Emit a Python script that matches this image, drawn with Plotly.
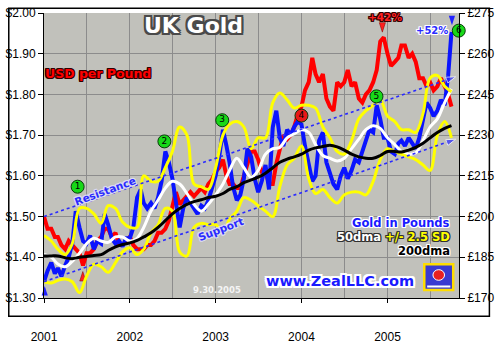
import plotly.graph_objects as go

# ---------------- data ----------------
semi_dates = []
for yr in range(2001, 2006):
    for mo in range(1, 13):
        if yr == 2005 and mo > 9:
            break
        semi_dates.append(f"{yr}-{mo:02d}-01")
        semi_dates.append(f"{yr}-{mo:02d}-16")
semi_dates.append("2005-09-30")

month_dates = []
for yr in range(2001, 2006):
    for mo in range(1, 13):
        if yr == 2005 and mo > 9:
            break
        month_dates.append(f"{yr}-{mo:02d}-01")
month_dates.append("2005-09-30")

usd_per_pound = [
    1.50, 1.47, 1.47, 1.45, 1.45, 1.43, 1.42, 1.44, 1.43, 1.42, 1.41, 1.38,
    1.41, 1.41, 1.42, 1.44, 1.45, 1.47, 1.47, 1.45, 1.46, 1.43, 1.43, 1.44,
    1.45, 1.43, 1.42, 1.42, 1.42, 1.43, 1.43, 1.44, 1.46, 1.46, 1.47, 1.49,
    1.53, 1.56, 1.53, 1.54, 1.55, 1.56, 1.55, 1.56, 1.57, 1.56, 1.58, 1.59,
    1.61, 1.62, 1.64, 1.60, 1.58, 1.58, 1.57, 1.57, 1.60, 1.63, 1.66, 1.66,
    1.64, 1.61, 1.61, 1.58, 1.58, 1.63, 1.67, 1.70, 1.69, 1.70, 1.72, 1.75,
    1.77, 1.81, 1.83, 1.89, 1.85, 1.83, 1.85, 1.79, 1.77, 1.76, 1.83, 1.82,
    1.83, 1.86, 1.82, 1.83, 1.79, 1.78, 1.80, 1.81, 1.83, 1.86, 1.93, 1.94,
    1.90, 1.87, 1.88, 1.89, 1.92, 1.92, 1.89, 1.90, 1.88, 1.84, 1.84, 1.82,
    1.83, 1.81, 1.82, 1.84, 1.82, 1.80, 1.77,
]

gold_gbp = [
    176, 180, 183, 179, 181, 178, 182, 185, 190, 202, 196, 191,
    190, 193, 188, 191, 190, 201, 197, 192, 190, 191, 189, 192,
    192, 196, 207, 210, 205, 203, 205, 203, 207, 213, 224, 220,
    214, 205, 196, 203, 207, 205, 203, 201, 204, 203, 206, 211,
    215, 222, 232, 226, 220, 211, 206, 208, 214, 225, 222, 214,
    209, 213, 219, 210, 233, 239, 229, 226, 232, 230, 233, 235,
    234, 226, 220, 213, 215, 228, 231, 220, 216, 212, 210, 215,
    218, 214, 217, 221, 220, 224, 228, 232, 231, 241, 236, 229,
    229, 224, 223, 227, 228, 226, 229, 227, 225, 229, 236, 242,
    240, 237, 239, 243, 241, 252, 268,
]

dma50 = [
    186, 185, 182.5, 181.5, 183.5, 186.5, 190, 192, 191, 190.5, 192.5, 192.5,
    191, 192, 196, 202, 206, 210.5, 213, 212, 208.5, 204.5, 202, 204.5,
    208, 212, 217, 221.5, 218, 214.5, 217, 223, 225, 225.5, 229, 230.5,
    232, 231, 226.5, 222.5, 221.5, 220.5, 221.5, 225, 228.5, 232, 233.5, 232.5,
    229, 226.5, 224, 223, 223.5, 228, 233, 236, 242, 247,
]

dma200 = [
    185.5, 185.5, 185.5, 184.8, 184.5, 185, 185.3, 185.7, 186, 187.5, 188.8, 189.7,
    190.3, 191.2, 192.5, 194, 196, 198.5, 201, 203, 204.5, 205.5, 206.2, 207,
    207.5, 208.5, 210, 211, 212.5, 213.5, 214.5, 216, 218, 220, 221.2, 222,
    223, 224.5, 225.3, 225.8, 226.3, 225.7, 224.5, 223, 222, 221.5, 221.5, 222.5,
    224, 224, 223.8, 224.5, 225.5, 227, 229, 231, 232.5, 233.5,
]

band_upper = [
    193, 191, 188, 186, 190, 203, 203, 201, 197.5, 204, 203, 198,
    196, 196, 215, 213, 213, 218, 224, 233, 230, 212, 211, 210,
    218, 230, 234, 235, 233, 225, 229, 229, 242, 245.5, 243, 240,
    241, 241, 240, 233, 229, 224, 223, 228, 236, 239, 241, 243,
    237, 235, 232, 232, 231, 238, 251, 252, 248, 246,
]

band_lower = [
    176, 175.5, 176.5, 177, 176, 172, 178, 182.5, 181.5, 179.5, 183, 187,
    188.5, 186, 188, 194, 197, 203, 202, 187, 185.5, 196, 197.5, 197,
    197, 194, 199, 202, 207, 206, 204, 202, 200, 211, 219, 221.5,
    226, 214, 208.5, 210, 207, 205, 208, 209, 209, 208, 213, 221,
    225, 224, 223, 222, 221, 219, 217, 230, 235, 229,
]

trend_dates = ["2001-01-01", "2005-10-18"]
resistance = [200, 251.5]
support = [176, 228.5]

marker_dates = ["2001-05-24", "2002-05-28", "2003-01-29", "2004-01-01", "2004-11-15", "2005-10-31"]
marker_vals = [211, 227.7, 235.5, 237.2, 244.3, 268.5]
marker_labels = ["1", "2", "3", "4", "5", "6"]
marker_colors = ["#18d818", "#18d818", "#18d818", "#e81818", "#18d818", "#18d818"]

usd_ticks = [1.30, 1.40, 1.50, 1.60, 1.70, 1.80, 1.90, 2.00]
gbp_ticks = [170, 185, 200, 215, 230, 245, 260, 275]
x_ticks = ["2001-01-01", "2002-01-01", "2003-01-01", "2004-01-01", "2005-01-01"]
x_labels = ["2001", "2002", "2003", "2004", "2005"]

# ---------------- helpers ----------------
def outline(c, w=1):
    offs = [(-w, -w), (w, -w), (-w, w), (w, w), (0, w), (0, -w), (w, 0), (-w, 0)]
    return ", ".join(f"{dx}px {dy}px 0 {c}" for dx, dy in offs)

L, R, T, B = 37, 33, 6, 22
PW, PH = 500 - L - R, 350 - T - B

def px(xp):
    return (xp - L) / PW

def py(yp):
    return (350 - B - yp) / PH

BLUE = "#1a1aff"
FONT = "DejaVu Sans"

fig = go.Figure()

fig.add_trace(go.Scatter(x=semi_dates, y=usd_per_pound, mode="lines",
                         line=dict(color="#ff0000", width=4), yaxis="y"))
fig.add_trace(go.Scatter(x=semi_dates, y=gold_gbp, mode="lines",
                         line=dict(color="#0a14ff", width=4), yaxis="y2"))
fig.add_trace(go.Scatter(x=month_dates, y=dma50, mode="lines",
                         line=dict(color="#ffffff", width=3, shape="spline"), yaxis="y2"))
fig.add_trace(go.Scatter(x=month_dates, y=band_upper, mode="lines",
                         line=dict(color="#ffff00", width=3, shape="spline"), yaxis="y2"))
fig.add_trace(go.Scatter(x=month_dates, y=band_lower, mode="lines",
                         line=dict(color="#ffff00", width=3, shape="spline"), yaxis="y2"))
fig.add_trace(go.Scatter(x=month_dates, y=dma200, mode="lines",
                         line=dict(color="#000000", width=3, shape="spline"), yaxis="y2"))

for vals in (resistance, support):
    fig.add_trace(go.Scatter(
        x=trend_dates, y=vals, mode="lines+markers", yaxis="y2", cliponaxis=False,
        line=dict(color="#2a2aff", width=1.6, dash="dot"),
        marker=dict(symbol="arrow", angleref="previous", size=[0, 10], color="#2a2aff"),
    ))

# peak / low arrow markers
fig.add_trace(go.Scatter(x=["2004-12-10"], y=[1.953], mode="markers", yaxis="y", cliponaxis=False,
                         marker=dict(symbol="arrow", angle=180, size=10, color="#ff2020",
                                     line=dict(color="#800000", width=0.5))))
fig.add_trace(go.Scatter(x=["2001-06-15"], y=[1.365], mode="markers", yaxis="y", cliponaxis=False,
                         marker=dict(symbol="arrow", angle=0, size=10, color="#ff2020",
                                     line=dict(color="#800000", width=0.5))))
fig.add_trace(go.Scatter(x=["2005-10-02"], y=[270.5], mode="markers", yaxis="y2", cliponaxis=False,
                         marker=dict(symbol="arrow", angle=180, size=10, color="#2020ff")))
fig.add_trace(go.Scatter(x=["2001-01-04"], y=[174.4], mode="markers", yaxis="y2", cliponaxis=False,
                         marker=dict(symbol="arrow", angle=0, size=10, color="#2020ff")))

# numbered circles
fig.add_trace(go.Scatter(
    x=marker_dates, y=marker_vals, mode="markers+text", yaxis="y2", cliponaxis=False,
    text=marker_labels, textposition="middle center",
    textfont=dict(family=FONT, size=9, color="#000000"),
    marker=dict(size=13, color=marker_colors, line=dict(color="#0a3a0a", width=1)),
))

ann = []
def add_text(text, xp, yp, size, color, shadow, xanchor="center", angle=0, weight="bold"):
    ann.append(dict(text=text, x=px(xp), y=py(yp), xref="paper", yref="paper",
                    xanchor=xanchor, yanchor="middle", showarrow=False, textangle=angle,
                    font=dict(family=FONT, size=size, color=color, weight=weight, shadow=shadow)))

title_shadow = outline("#4a4a4a", 1) + ", " + outline("#4a4a4a", 2)
add_text("UK Gold", 192, 20, 22, "#ffffff", title_shadow)
add_text("USD per Pound", 93, 74, 12.5, "#ff0000", outline("#300000", 1))
add_text("+42%", 390, 11, 10.5, "#ff2020", outline("#300000", 1))
add_text("+52%", 439, 26, 10, "#2a2aff", outline("#ffffff", 1))
add_text("Resistance", 100, 207, 10.5, "#2a2aff", outline("#dcdcf0", 1), angle=-20)
add_text("Support", 220, 250, 10.5, "#2a2aff", outline("#dcdcf0", 1), angle=-21)
add_text("Gold in Pounds", 460, 243, 11.5, BLUE, outline("#ffffff", 1), xanchor="right")
add_text("<span style='color:#ffffff'>50dma</span> <span style='color:#ffff00'>+/- 2.5 SD</span>",
         460, 259, 11.5, "#ffffff", outline("#303030", 1), xanchor="right")
add_text("200dma", 460, 275, 11.5, "#000000", outline("#ffffff", 1), xanchor="right")
add_text("www.ZealLLC.com", 344, 309, 14.5, BLUE,
         outline("#ffffff", 1) + ", " + outline("#ffffff", 2))
add_text("9.30.2005", 216, 319, 8.5, "#f4f4f4", "none")

shapes = [
    dict(type="rect", xref="paper", yref="paper", x0=px(0.5), x1=px(498.5), y0=py(348.5), y1=py(0.5),
         line=dict(color="#000000", width=1.5), fillcolor="rgba(0,0,0,0)", layer="above"),
    dict(type="rect", xref="paper", yref="paper", x0=px(431), x1=px(461), y0=py(319), y1=py(290),
         line=dict(color="#ffdd00", width=2.5), fillcolor="#3a3ad0", layer="above"),
    dict(type="circle", xref="paper", yref="paper", x0=px(440), x1=px(452), y0=py(308), y1=py(296),
         line=dict(color="#ffffff", width=1), fillcolor="#e82020", layer="above"),
    dict(type="line", xref="paper", yref="paper", x0=px(434), x1=px(458), y0=py(315), y1=py(315),
         line=dict(color="#ffffff", width=2), layer="above"),
]

fig.update_layout(
    width=500, height=350, autosize=False,
    margin=dict(l=L, r=R, t=T, b=B, pad=0),
    paper_bgcolor="#ffffff", plot_bgcolor="#c1c1bb",
    showlegend=False,
    font=dict(family="Liberation Sans", size=12, color="#000000"),
    xaxis=dict(
        type="date", range=["2001-01-01", "2005-11-01"],
        tickvals=x_ticks, ticktext=x_labels, ticklabeloverflow="allow", ticklabelstandoff=24,
        showgrid=True, gridcolor="#8c8c8c", gridwidth=1,
        minor=dict(dtick="M6", showgrid=True, gridcolor="#8c8c8c", gridwidth=1, ticks=""),
        showline=True, linecolor="#000000", linewidth=1,
        ticks="outside", ticklen=4, tickcolor="#000000",
        tickfont=dict(family="Liberation Sans", size=12), zeroline=False,
    ),
    yaxis=dict(
        range=[1.30, 2.00], tickvals=usd_ticks, ticktext=[f"${v:.2f}" for v in usd_ticks],
        ticklabeloverflow="allow",
        showgrid=True, gridcolor="#8c8c8c", gridwidth=1,
        showline=True, linecolor="#000000", linewidth=1,
        ticks="outside", ticklen=5, tickcolor="#000000",
        tickfont=dict(family="Liberation Sans", size=12), zeroline=False,
    ),
    yaxis2=dict(
        range=[170, 275], tickvals=gbp_ticks, ticktext=[f"£{v}" for v in gbp_ticks],
        overlaying="y", side="right", ticklabeloverflow="allow",
        showgrid=False, showline=True, linecolor="#000000", linewidth=1,
        ticks="outside", ticklen=5, tickcolor="#000000",
        tickfont=dict(family="Liberation Sans", size=12), zeroline=False,
    ),
    annotations=ann,
    shapes=shapes,
)

fig.write_html("out.html")
